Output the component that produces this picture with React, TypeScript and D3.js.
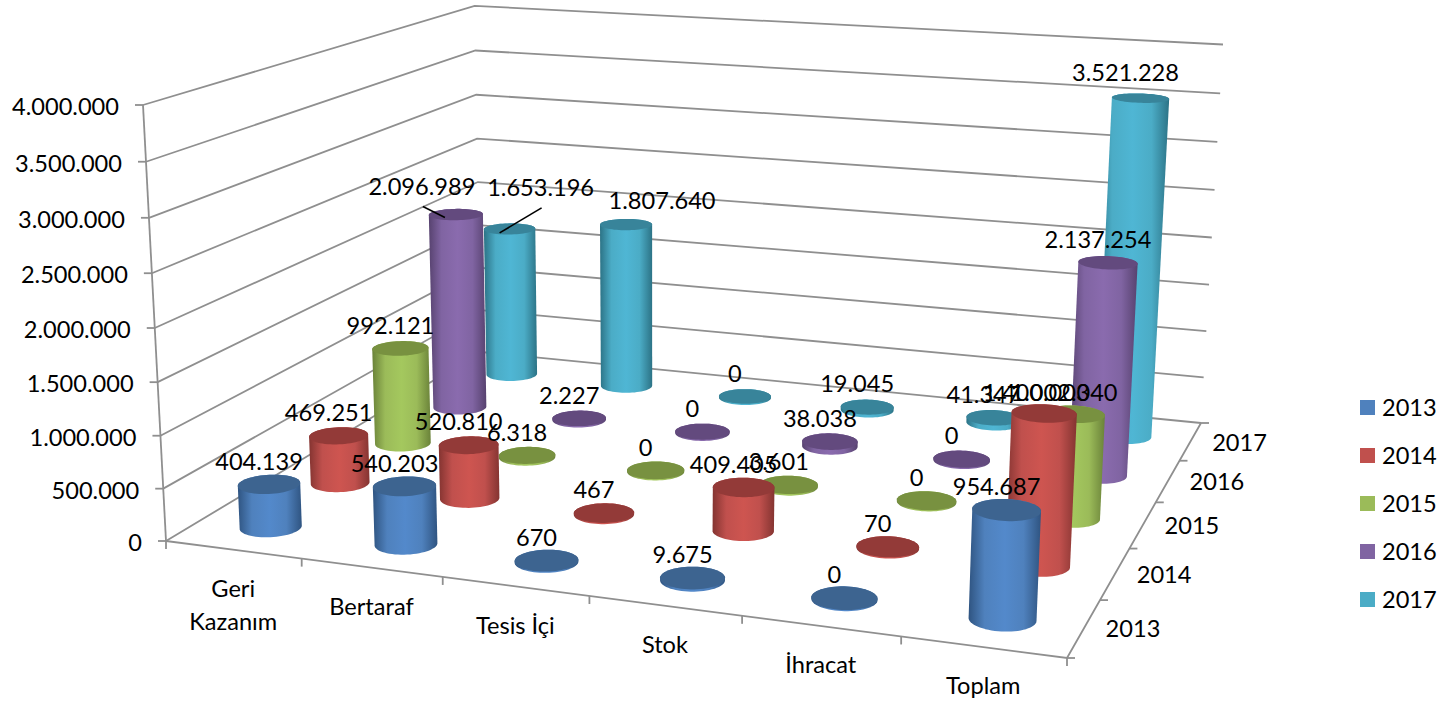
import * as d3 from 'd3';

const categories = ['Geri Kazanım', 'Bertaraf', 'Tesis İçi', 'Stok', 'İhracat', 'Toplam'];
const years = ['2013', '2014', '2015', '2016', '2017'];
const values2013 = [404139, 540203, 670, 9675, 0, 954687];
const values2014 = [469251, 520810, 467, 409405, 70, 1400003];
const values2015 = [992121, 6318, 0, 3601, 0, 1002040];
const values2016 = [2096989, 2227, 0, 38038, 0, 2137254];
const values2017 = [1653196, 1807640, 0, 19045, 41347, 3521228];
const seriesValues = [values2013, values2014, values2015, values2016, values2017];
const valueTicks = [0, 500000, 1000000, 1500000, 2000000, 2500000, 3000000, 3500000, 4000000];

// bright centre, edge shade, top cap
const palette = [
  { mid: '#4f81bd', bright: '#5389cb', dark: '#2f5481', cap: '#3d6490' },
  { mid: '#c0504d', bright: '#ce5550', dark: '#843431', cap: '#933a38' },
  { mid: '#9bbb59', bright: '#a4c85e', dark: '#6a8239', cap: '#789140' },
  { mid: '#8064a2', bright: '#8a6bae', dark: '#57426f', cap: '#634a7e' },
  { mid: '#4bacc6', bright: '#4fb6d4', dark: '#2c7386', cap: '#38849a' },
];

// hand moved labels in the chart, `${year}-${category index}`
const labelNudges: Record<string, { dx: number; dy: number; leader?: [number, number] }> = {
  '2016-0': { dx: -34, dy: -28, leader: [-11, 3] },
  '2017-0': { dx: 31, dy: -41, leader: [-10, 4] },
  '2017-1': { dx: 36, dy: -24 },
  '2017-5': { dx: -15, dy: -25 },
  '2014-5': { dx: -8, dy: -21 },
  '2015-5': { dx: -10, dy: -21 },
};

const WIDTH = 1443;
const HEIGHT = 703;
const FONT = 'Lato, "Open Sans", sans-serif';
const FONT_SIZE = 23.6;
const GRID = '#8f8f8f';

const frontLeft = [166, 541];
const frontRight = [1067, 658];
const backRight = [1201, 423];
const backLeft = [481, 352];
const topFrontLeft = [143, 105];
const topBackRight = [1223, 43];

// perspective matrix: unit box (u along categories, v along years, h up) -> screen
function makeProjection() {
  const [x0, y0] = frontLeft;
  const [x1, y1] = frontRight;
  const [x2, y2] = backRight;
  const [x3, y3] = backLeft;
  const sx = x0 - x1 + x2 - x3;
  const sy = y0 - y1 + y2 - y3;
  const dx1 = x1 - x2;
  const dx2 = x3 - x2;
  const dy1 = y1 - y2;
  const dy2 = y3 - y2;
  const den = dx1 * dy2 - dx2 * dy1;
  const g = (sx * dy2 - sy * dx2) / den;
  const h = (dx1 * sy - sx * dy1) / den;
  const a = x1 - x0 + g * x1;
  const b = x3 - x0 + h * x3;
  const d = y1 - y0 + g * y1;
  const e = y3 - y0 + h * y3;

  // the height term comes from how the two wall edges lean
  const w11 = g + h + 1;
  const kz = (w11 * (x2 - topBackRight[0]) + topFrontLeft[0] - x0) / (topBackRight[0] - topFrontLeft[0]);
  const kx = topFrontLeft[0] * (1 + kz) - x0;
  const ky = topFrontLeft[1] * (1 + kz) - y0;

  return (u: number, v: number, z: number): [number, number] => {
    const w = g * u + h * v + 1 + kz * z;
    return [(a * u + b * v + x0 + kx * z) / w, (d * u + e * v + y0 + ky * z) / w];
  };
}

const project = makeProjection();

const xBand = d3.scaleBand<string>().domain(categories).range([0, 1]);
const yBand = d3.scaleBand<string>().domain(years).range([0, 1]);
const zScale = d3.scaleLinear().domain([0, 4000000]).range([0, 1]);
const fmt = d3.formatLocale({ decimal: ',', thousands: '.', grouping: [3], currency: ['', ''] }).format(',d');
const linePath = d3.line();
const closedPath = d3.line().curve(d3.curveLinearClosed);

const RADIUS = 0.205;
const angles = d3.range(64).map((i) => (i / 64) * 2 * Math.PI);

function ring(cat: string, year: string, value: number): [number, number][] {
  const cu = xBand(cat)! + xBand.bandwidth() / 2;
  const cv = yBand(year)! + yBand.bandwidth() / 2;
  return angles.map((t) =>
    project(
      cu + RADIUS * xBand.bandwidth() * Math.cos(t),
      cv + RADIUS * yBand.bandwidth() * Math.sin(t),
      zScale(value)
    )
  );
}

function Cylinder({ cat, year, value, si }: { cat: string; year: string; value: number; si: number }) {
  const bottom = ring(cat, year, 0).map(([x, y]) => [x, y + 1.2] as [number, number]);
  const top = ring(cat, year, value);
  const hull = d3.polygonHull([...bottom, ...top])!;
  return (
    <g>
      <path d={closedPath(hull)!} fill={`url(#body${si})`} />
      <path d={closedPath(top)!} fill={palette[si].cap} />
    </g>
  );
}

export default function App() {
  const level = (u: number, v: number, val: number) => project(u, v, zScale(val));

  const bars = d3
    .range(years.length - 1, -1, -1)
    .flatMap((si) => categories.map((cat, ci) => ({ si, cat, ci, year: years[si], value: seriesValues[si][ci] })));

  const catEdges = d3.range(categories.length + 1).map((i) => i / categories.length);
  const yearEdges = d3.range(years.length + 1).map((i) => i / years.length);

  return (
    <svg
      width={WIDTH}
      height={HEIGHT}
      viewBox={`0 0 ${WIDTH} ${HEIGHT}`}
      style={{ position: 'absolute', left: 0, top: 0, background: '#fff' }}
      fontFamily={FONT}
      fontSize={FONT_SIZE}
      fill="#000"
    >
      <defs>
        {palette.map((c, i) => (
          <linearGradient key={i} id={`body${i}`} x1="0" x2="1" y1="0" y2="0">
            <stop offset="0" stopColor={c.dark} />
            <stop offset="0.22" stopColor={c.mid} />
            <stop offset="0.5" stopColor={c.bright} />
            <stop offset="0.76" stopColor={c.mid} />
            <stop offset="1" stopColor={c.dark} />
          </linearGradient>
        ))}
      </defs>

      {/* walls */}
      <g stroke={GRID} strokeWidth={1.8} fill="none">
        {valueTicks.map((t) => (
          <path key={t} d={linePath([level(0, 0, t), level(0, 1, t), level(1, 1, t)])!} />
        ))}
        <path d={linePath([level(0, 0, 0), level(0, 0, 4000000)])!} />
        <path d={linePath([level(0, 0, 0), level(1, 0, 0), level(1, 1, 0)])!} />
        {valueTicks.map((t) => {
          const [x, y] = level(0, 0, t);
          return <path key={t} d={linePath([[x - 8, y], [x, y]])!} />;
        })}
        {catEdges.map((u) => {
          const [x, y] = level(u, 0, 0);
          return <path key={u} d={linePath([[x, y], [x, y + 8]])!} />;
        })}
        {yearEdges.map((v) => {
          const [x, y] = level(1, v, 0);
          return <path key={v} d={linePath([[x, y], [x + 8, y]])!} />;
        })}
      </g>

      {/* value axis */}
      {valueTicks.map((t) => {
        const [x, y] = level(0, 0, t);
        return (
          <text key={t} x={x - 24} y={y + 2} dy="0.35em" textAnchor="end">
            {fmt(t)}
          </text>
        );
      })}

      {/* category axis */}
      {categories.map((cat) => {
        const [x, y] = project(xBand(cat)! + xBand.bandwidth() / 2, 0, 0);
        const words = cat === 'Geri Kazanım' ? cat.split(' ') : [cat];
        return (
          <text key={cat} x={x} y={y + 39} textAnchor="middle">
            {words.map((w, i) => (
              <tspan key={w} x={x} dy={i === 0 ? '0.35em' : 33}>
                {w}
              </tspan>
            ))}
          </text>
        );
      })}

      {/* year axis */}
      {years.map((year) => {
        const [x, y] = project(1, yBand(year)! + yBand.bandwidth() / 2, 0);
        return (
          <text key={year} x={x + 49} y={y + 1} dy="0.35em" textAnchor="middle">
            {year}
          </text>
        );
      })}

      {/* back to front */}
      {bars.map((b) => (
        <Cylinder key={`${b.year}-${b.ci}`} cat={b.cat} year={b.year} value={b.value} si={b.si} />
      ))}

      {/* data labels stay above the bars */}
      {bars.map((b) => {
        const [cx, cy] = project(
          xBand(b.cat)! + xBand.bandwidth() / 2,
          yBand(b.year)! + yBand.bandwidth() / 2,
          zScale(b.value)
        );
        const nudge = labelNudges[`${b.year}-${b.ci}`] ?? { dx: -10, dy: -23 };
        const lx = cx + nudge.dx;
        const ly = cy + nudge.dy;
        return (
          <g key={`${b.year}-${b.ci}`}>
            {nudge.leader && (
              <path
                d={linePath([[lx + 1, ly + 20], [cx + nudge.leader[0], cy + nudge.leader[1]]])!}
                stroke="#000"
                strokeWidth={1.6}
                fill="none"
              />
            )}
            <text x={lx} y={ly} dy="0.35em" textAnchor="middle">
              {fmt(b.value)}
            </text>
          </g>
        );
      })}

      {/* legend */}
      {years.map((year, i) => (
        <g key={year} transform={`translate(1360,${400 + i * 48})`}>
          <rect width={15} height={15} fill={palette[i].mid} />
          <text x={22} y={7.5} dy="0.35em">
            {year}
          </text>
        </g>
      ))}
    </svg>
  );
}
